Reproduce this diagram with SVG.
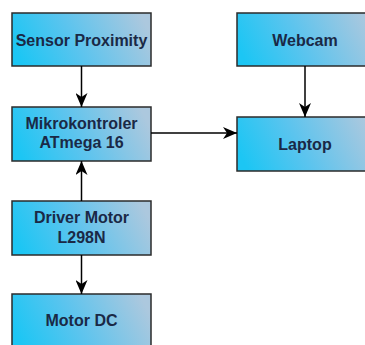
<svg xmlns="http://www.w3.org/2000/svg" width="365" height="345" viewBox="0 0 365 345">
<defs>
<linearGradient id="g" x1="0" y1="0.6" x2="1" y2="0.4">
<stop offset="0" stop-color="#1cc6f4"/>
<stop offset="0.45" stop-color="#5cc4ee"/>
<stop offset="1" stop-color="#acc8de"/>
</linearGradient>
<marker id="ah" viewBox="0 0 14 12" refX="14" refY="6" markerWidth="14" markerHeight="12" markerUnits="userSpaceOnUse" orient="auto">
<path d="M0,0 L14,6 L0,12 L4,6 Z" fill="#000"/>
</marker>
</defs>
<style>
.box{fill:url(#g);stroke:#2b2b2b;stroke-width:1.5}
.t{font-family:"Liberation Sans",Arial,sans-serif;font-weight:bold;font-size:16px;fill:#1a2946;text-anchor:middle}
.c{stroke:#000;stroke-width:1.5;fill:none;marker-end:url(#ah)}
</style>
<rect width="365" height="345" fill="#fff"/>
<g id="sensor"><rect class="box" x="12" y="13" width="139" height="53"/><text class="t" x="81.5" y="45.5">Sensor Proximity</text></g>
<g id="mikro"><rect class="box" x="12" y="107" width="139" height="54"/><text class="t" x="81.5" y="129">Mikrokontroler</text><text class="t" x="81.5" y="148">ATmega 16</text></g>
<g id="driver"><rect class="box" x="12" y="201" width="139" height="54"/><text class="t" x="81.5" y="223">Driver Motor</text><text class="t" x="81.5" y="243">L298N</text></g>
<g id="motor"><rect class="box" x="12" y="294" width="139" height="54"/><text class="t" x="81.5" y="326">Motor DC</text></g>
<g id="webcam"><rect class="box" x="237" y="13" width="139" height="53"/><text class="t" x="305" y="45.5">Webcam</text></g>
<g id="laptop"><rect class="box" x="237" y="117" width="139" height="54"/><text class="t" x="305" y="150">Laptop</text></g>
<g id="connectors">
<line class="c" x1="81.5" y1="66" x2="81.5" y2="107"/>
<line class="c" x1="81.5" y1="201" x2="81.5" y2="161"/>
<line class="c" x1="81.5" y1="255" x2="81.5" y2="294"/>
<line class="c" x1="151" y1="133" x2="237" y2="133"/>
<line class="c" x1="305" y1="66" x2="305" y2="117"/>
</g>
</svg>
